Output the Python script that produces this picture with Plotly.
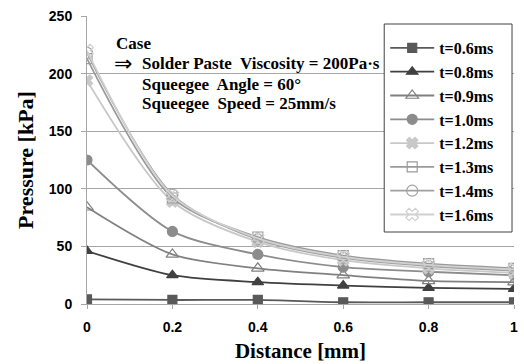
import plotly.graph_objects as go

distance = [0, 0.2, 0.4, 0.6, 0.8, 1.0]
series_names = ["t=0.6ms", "t=0.8ms", "t=0.9ms", "t=1.0ms", "t=1.2ms", "t=1.3ms", "t=1.4ms", "t=1.6ms"]
p_06 = [4, 3.5, 3.5, 1.5, 1.5, 1.5]
p_08 = [46, 25, 19, 16, 14, 13]
p_09 = [84, 43, 31, 25, 20, 19]
p_10 = [125, 63, 43, 32, 28, 25]
p_12 = [194, 89, 54, 38, 31, 27]
p_13 = [213, 92, 58, 42, 35, 31]
p_14 = [218, 95, 56, 40, 33, 29]
p_16 = [220, 94, 57, 41, 34, 30]
values = [p_06, p_08, p_09, p_10, p_12, p_13, p_14, p_16]

styles = [
    dict(color="#595959", symbol="square", size=9),
    dict(color="#404040", symbol="triangle-up", size=10),
    dict(color="#808080", symbol="triangle-up-open", size=11),
    dict(color="#8c8c8c", symbol="circle", size=10),
    dict(color="#c8c8c8", symbol="x", size=10),
    dict(color="#9a9a9a", symbol="square-open", size=10),
    dict(color="#a0a0a0", symbol="circle-open", size=11),
    dict(color="#d0d0d0", symbol="x-open", size=11),
]

fig = go.Figure()
for i, (name, vals, st) in enumerate(zip(series_names, values, styles)):
    fig.add_trace(go.Scatter(
        x=distance, y=vals, name=name, mode="lines+markers",
        line=dict(color=st["color"], width=1.8, shape="spline", smoothing=0.8),
        marker=dict(symbol=st["symbol"], size=st["size"], color=st["color"],
                    line=dict(color=st["color"], width=1.2)),
        legendgroup=f"g{i}",
    ))

serif = "Liberation Serif"
L, R, T, B = 87, 518, 16, 304
def px_to_paper_x(px):
    return (px - L) / (R - L)
def px_to_paper_y(py):
    return (B - py) / (B - T)

fig.update_layout(
    width=524, height=364,
    margin=dict(l=L, r=524 - R, t=T, b=364 - B),
    paper_bgcolor="white", plot_bgcolor="white",
    showlegend=True,
    legend=dict(x=px_to_paper_x(388), y=px_to_paper_y(31), xanchor="left", yanchor="top",
                borderwidth=0, bgcolor="rgba(0,0,0,0)",
                font=dict(family=serif, size=16, color="black", weight="bold"),
                tracegroupgap=0, itemwidth=44),
    xaxis=dict(range=[0, 1], tickvals=[0, 0.2, 0.4, 0.6, 0.8, 1.0],
               ticktext=["0", "0.2", "0.4", "0.6", "0.8", "1"],
               showgrid=False, zeroline=False, showline=True, linecolor="#a6a6a6",
               ticks="outside", ticklen=4, tickcolor="#a6a6a6", ticklabelstandoff=6,
               tickfont=dict(family="Liberation Sans", size=14, color="black", weight="bold"),
               title=dict(text="Distance [mm]", standoff=9,
                          font=dict(family=serif, size=21, color="black", weight="bold"))),
    yaxis=dict(range=[0, 250], dtick=50,
               showgrid=True, gridcolor="#a6a6a6", gridwidth=1, zeroline=False,
               showline=True, linecolor="#a6a6a6",
               ticks="outside", ticklen=5, tickcolor="#a6a6a6", ticklabelstandoff=6,
               tickfont=dict(family="Liberation Sans", size=14, color="black", weight="bold"),
               title=dict(text="Pressure [kPa]", standoff=9,
                          font=dict(family=serif, size=22, color="black", weight="bold"))),
)

# legend frame
fig.add_shape(type="rect", xref="paper", yref="paper",
              x0=px_to_paper_x(387), x1=px_to_paper_x(516), y0=px_to_paper_y(232), y1=px_to_paper_y(24),
              line=dict(color="#404040", width=1), fillcolor="white", layer="above")

ann_font = dict(family=serif, size=17, color="black", weight="bold")
fig.add_annotation(text="Case", x=px_to_paper_x(114), y=px_to_paper_y(43), xref="paper", yref="paper",
                   xanchor="left", yanchor="middle", showarrow=False, font=ann_font)
fig.add_annotation(text="\u21d2", x=px_to_paper_x(112), y=px_to_paper_y(64), xref="paper", yref="paper",
                   xanchor="left", yanchor="middle", showarrow=False,
                   font=dict(family="DejaVu Sans", size=22, color="black"))
fig.add_annotation(text="Solder Paste  Viscosity = 200Pa\u00b7s", x=px_to_paper_x(140), y=px_to_paper_y(64),
                   xref="paper", yref="paper", xanchor="left", yanchor="middle", showarrow=False, font=ann_font)
fig.add_annotation(text="Squeegee  Angle = 60\u00b0", x=px_to_paper_x(140), y=px_to_paper_y(84),
                   xref="paper", yref="paper", xanchor="left", yanchor="middle", showarrow=False, font=ann_font)
fig.add_annotation(text="Squeegee  Speed = 25mm/s", x=px_to_paper_x(140), y=px_to_paper_y(103),
                   xref="paper", yref="paper", xanchor="left", yanchor="middle", showarrow=False, font=ann_font)

fig.write_html("out.html")
